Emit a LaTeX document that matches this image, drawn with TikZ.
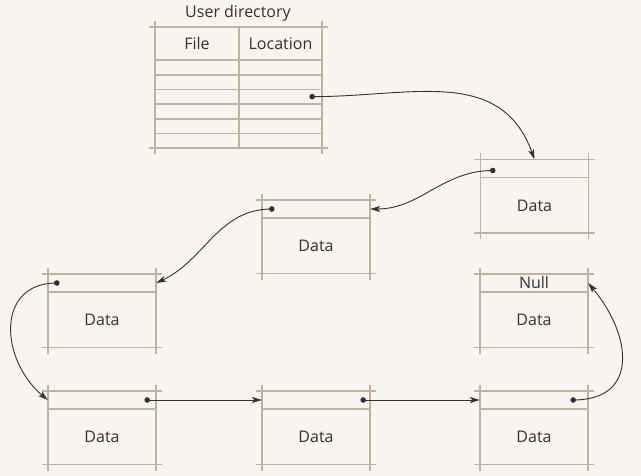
\documentclass[tikz,border=0pt]{standalone}
\usepackage{fontspec}
\setmainfont{Open Sans}
\usetikzlibrary{arrows.meta,positioning}

\definecolor{paper}{RGB}{248,244,239}
\definecolor{rule}{RGB}{192,178,158}
\definecolor{ink}{RGB}{50,50,50}

\begin{document}
\begin{tikzpicture}[
        x=1pt, y=1pt,
        every node/.style={font=\fontsize{16}{18}\selectfont, text=ink, inner sep=0pt},
        ptrfield/.style={minimum width=108pt, minimum height=18pt},
        datafield/.style={minimum width=108pt, minimum height=55pt},
        cell/.style={minimum height=14.67pt},
        frame/.style={draw=rule, line width=1.5pt},
        overshoot/.style={shorten <=-6pt, shorten >=-6pt},
        link/.style={draw=ink, line width=0.9pt, -{Stealth[length=10pt,width=6pt,inset=2.5pt]}},
        dot/.style={fill=ink}
    ]
        % Page and background
        \useasboundingbox (0,0) rectangle (641,-476);
        \fill[paper] (0,0) rectangle (641,-476);

        % User directory table
        \node (title) at (238,-13) {User directory};
        \node[minimum width=84pt, minimum height=33pt] (hfile) at (197,-43.5) {File};
        \node[minimum width=83pt, minimum height=33pt] (hloc) at (280.5,-43.5) {Location};
        \foreach \i in {1,...,6} {
            \node[cell, minimum width=84pt] (file\i) at (197,{-(60+14.67*(\i-0.5))}) {};
            \node[cell, minimum width=83pt] (loc\i) at (280.5,{-(60+14.67*(\i-0.5))}) {};
        }

        % Table rules
        \draw[frame, overshoot] (hfile.north west) -- (hloc.north east);
        \draw[frame, overshoot] (file6.south west) -- (loc6.south east);
        \draw[frame, overshoot] (hfile.north west) -- (file6.south west);
        \draw[frame, overshoot] (hloc.north east) -- (loc6.south east);
        \draw[frame] (hfile.north east) -- (file6.south east);
        \draw[frame] (hfile.south west) -- (hloc.south east);
        \foreach \i in {1,...,5}
            \draw[frame] (file\i.south west) -- (loc\i.south east);

        % Records: pointer field on top, data below
        \node[ptrfield] (ra-ptr) at (534.5,-168.5) {};
        \node[datafield, below=0pt of ra-ptr] (ra) {Data};
        \node[ptrfield] (rb-ptr) at (316,-209) {};
        \node[datafield, below=0pt of rb-ptr] (rb) {Data};
        \node[ptrfield] (rc-ptr) at (102,-283) {};
        \node[datafield, below=0pt of rc-ptr] (rc) {Data};
        \node[ptrfield] (rd-ptr) at (102,-400) {};
        \node[datafield, below=0pt of rd-ptr] (rd) {Data};
        \node[ptrfield] (re-ptr) at (316,-400) {};
        \node[datafield, below=0pt of re-ptr] (re) {Data};
        \node[ptrfield] (rf-ptr) at (534,-400) {};
        \node[datafield, below=0pt of rf-ptr] (rf) {Data};
        \node[ptrfield] (rg-ptr) at (534,-283) {Null};
        \node[datafield, below=0pt of rg-ptr] (rg) {Data};

        % Record frames with overshooting corners
        \foreach \r in {ra,rb,rc,rd,re,rf,rg} {
            \draw[frame, overshoot] (\r-ptr.north west) -- (\r-ptr.north east);
            \draw[frame] (\r-ptr.south west) -- (\r-ptr.south east);
            \draw[frame, overshoot] (\r.south west) -- (\r.south east);
            \draw[frame, overshoot] (\r-ptr.north west) -- (\r.south west);
            \draw[frame, overshoot] (\r-ptr.north east) -- (\r.south east);
        }

        % Pointer start points
        \coordinate (d0) at ([xshift=-10pt]loc3.east);
        \coordinate (da) at ([xshift=12.5pt,yshift=-2pt]ra-ptr.west);
        \coordinate (db) at ([xshift=10pt]rb-ptr.west);
        \coordinate (dc) at ([xshift=9pt]rc-ptr.west);
        \coordinate (dd) at ([xshift=-9pt]rd-ptr.east);
        \coordinate (de) at ([xshift=-7pt]re-ptr.east);
        \coordinate (df) at ([xshift=-15pt]rf-ptr.east);

        % Links between records
        \draw[link] (d0) to[out=0, in=110, looseness=1.1] (ra-ptr.north);
        \draw[link] (da) to[out=180, in=0] (rb-ptr.east);
        \draw[link] (db) to[out=180, in=25] (rc-ptr.east);
        \draw[link] (dc) to[out=180, in=140, looseness=1.35] (rd-ptr.west);
        \draw[link] (dd) -- (re-ptr.west);
        \draw[link] (de) -- (rf-ptr.west);
        \draw[link] (df) to[out=0, in=-50, looseness=1.45] (rg-ptr.east);

        \foreach \d in {d0,da,db,dc,dd,de,df}
            \fill[dot] (\d) circle (2.8pt);
    \end{tikzpicture}
\end{document}
